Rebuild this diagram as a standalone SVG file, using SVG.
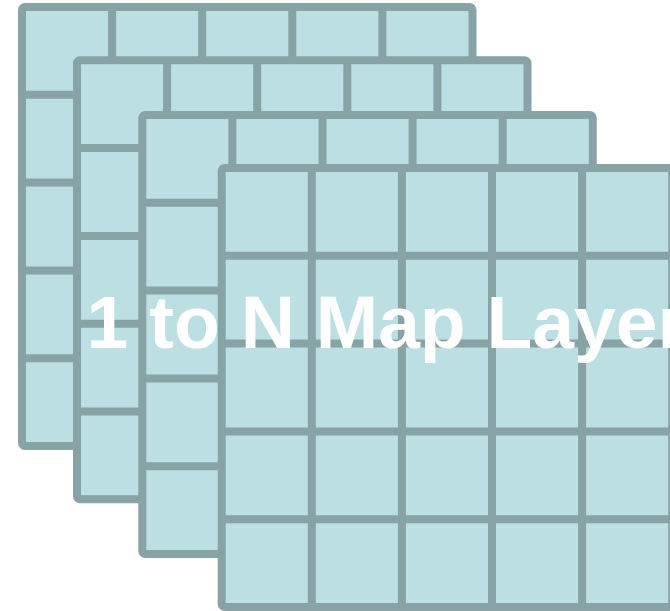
<svg xmlns="http://www.w3.org/2000/svg" xmlns:xlink="http://www.w3.org/1999/xlink" width="670" height="611" viewBox="0 0 670 611">
  <style>
    .frame { fill: #bbdfe2; stroke: #88a3a5; stroke-width: 8; }
    .grid { stroke: #88a3a5; stroke-width: 8; fill: none; }
    .label { font-family: "Liberation Sans", Arial, sans-serif; font-weight: bold; font-size: 75px; fill: #ffffff; }
  </style>
  <defs>
    <g id="layer">
      <rect class="frame" x="0" y="0" width="450.5" height="439" rx="3" ry="3"/>
      <path class="grid" d="M90.1 0V439M180.2 0V439M270.3 0V439M360.4 0V439M0 87.8H450.5M0 175.6H450.5M0 263.4H450.5M0 351.2H450.5"/>
    </g>
  </defs>
  <g id="layer1" transform="translate(22,7)"><use xlink:href="#layer" href="#layer"/></g>
  <g id="layer2" transform="translate(77,60.3)"><use xlink:href="#layer" href="#layer"/></g>
  <g id="layer3" transform="translate(142.3,115)"><use xlink:href="#layer" href="#layer"/></g>
  <g id="layer4" transform="translate(221.7,168)"><use xlink:href="#layer" href="#layer"/></g>
  <g id="connectors"/>
  <g id="title">
    <text class="label" x="86.5" y="348">1 to N Map Layer</text>
  </g>
</svg>
